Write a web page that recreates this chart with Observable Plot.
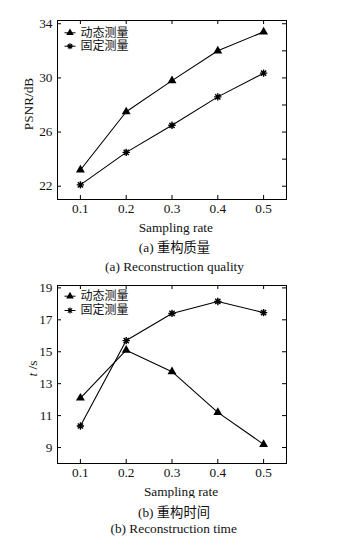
<!DOCTYPE html>
<html><head><meta charset="utf-8">
<script src="https://cdn.jsdelivr.net/npm/d3@7"></script>
<script src="https://cdn.jsdelivr.net/npm/@observablehq/plot@0.6"></script>
<style>
body{margin:0;background:#fff;}
#wrap{position:relative;width:337px;height:550px;overflow:hidden;font-family:"Liberation Serif","Noto Sans CJK SC",serif;color:#111;}
.cap{position:absolute;transform:translateX(-50%);white-space:nowrap;font-size:13.3px;line-height:13.3px;}
.slot{position:absolute;left:0;}
</style></head><body><div id="wrap">
<div class="slot" id="c1" style="top:0px"></div>
<div class="cap" style="top:241.3px;left:174.5px">(a) 重构质量</div>
<div class="cap" style="top:260.4px;left:174.5px">(a) Reconstruction quality</div>
<div class="slot" id="c2" style="top:276px"></div>
<div class="cap" style="top:506px;left:174px">(b) 重构时间</div>
<div class="cap" style="top:522.4px;left:173.7px">(b) Reconstruction time</div>
</div>
<script>
const rates = [0.1, 0.2, 0.3, 0.4, 0.5];
const seriesNames = ["动态测量", "固定测量"];
const psnrDynamic = [23.2, 27.5, 29.8, 32.0, 33.4];
const psnrFixed = [22.1, 24.5, 26.5, 28.6, 30.35];
const timeDynamic = [12.1, 15.1, 13.75, 11.2, 9.2];
const timeFixed = [10.35, 15.7, 17.4, 18.15, 17.45];
const psnrTicks = [22, 26, 30, 34];
const psnrMinorTicks = [22, 24, 26, 28, 30, 32, 34];
const timeTicks = [9, 11, 13, 15, 17, 19];
const xLabel = "Sampling rate";

const FONT = "Liberation Serif, Noto Sans CJK SC, serif";
const hline = {draw(ctx){ctx.moveTo(-5.5,0);ctx.lineTo(5.5,0);}};
const star8 = {draw(ctx, size){
  const r = Math.sqrt(size/Math.PI)*1.15;
  for (let i=0;i<4;i++){const a=i*Math.PI/4;const c=Math.cos(a)*r,s=Math.sin(a)*r;ctx.moveTo(-c,-s);ctx.lineTo(c,s);}
}};

function chart({dyn, fix, yDomain, yTicks, yRightTicks, yLabel, height, marginTop, marginBottom, xLabelDy, xLabelDx, yLabelDx, yLabelDy, leg1, leg2}) {
  const W = 337, ML = 57, MR = 51;
  const innerW = W - ML - MR, innerH = height - marginTop - marginBottom;
  const dynData = rates.map((x,i)=>({x, y: dyn[i]}));
  const fixData = rates.map((x,i)=>({x, y: fix[i]}));
  return Plot.plot({
    width: W, height, marginLeft: ML, marginRight: MR, marginTop, marginBottom,
    style: {fontFamily: FONT, fontSize: "13.3px", color: "#111", background: "#fff"},
    x: {domain: [0.05, 0.55]},
    y: {domain: yDomain},
    marks: [
      Plot.frame({stroke: "#000", strokeWidth: 1}),
      Plot.axisX(rates, {anchor: "bottom", tickSize: 0, tickPadding: 4, tickFormat: d => d.toFixed(1), label: null, fontSize: 13.3}),
      Plot.text([xLabel], {frameAnchor: "bottom", text: d => d, dx: xLabelDx, dy: xLabelDy, textAnchor: "middle", lineAnchor: "bottom", fontSize: 13.3, fill: "#111"}),
      Plot.tickX(rates, {x: d => d, insetTop: innerH - 4, stroke: "#000"}),
      Plot.tickX(rates, {x: d => d, insetBottom: innerH - 4, stroke: "#000"}),
      Plot.axisY(yTicks, {anchor: "left", tickSize: 0, tickPadding: 5, label: null, fontSize: 13.3}),
      Plot.text([yLabel], {frameAnchor: "left", text: d => d, rotate: -90, dx: yLabelDx, dy: yLabelDy, textAnchor: "middle", lineAnchor: "middle", fontSize: 13.3, fill: "#111"}),
      Plot.tickY(yTicks, {y: d => d, insetRight: innerW - 4, stroke: "#000"}),
      Plot.tickY(yRightTicks, {y: d => d, insetLeft: innerW - 4, stroke: "#000"}),
      Plot.line(dynData, {x: "x", y: "y", stroke: "#000", strokeWidth: 1.1}),
      Plot.line(fixData, {x: "x", y: "y", stroke: "#000", strokeWidth: 1.1}),
      Plot.dot(dynData, {x: "x", y: "y", symbol: "triangle", fill: "#000", r: 3.3}),
      Plot.dot(fixData, {x: "x", y: "y", symbol: star8, stroke: "#000", strokeWidth: 1.4, r: 3.2}),
      // legend
      Plot.dot([seriesNames[0]], {frameAnchor: "top-left", dx: 12.5, dy: leg1, symbol: hline, stroke: "#000", strokeWidth: 1}),
      Plot.dot([seriesNames[0]], {frameAnchor: "top-left", dx: 12.5, dy: leg1, symbol: "triangle", fill: "#000", r: 2.8}),
      Plot.text([seriesNames[0]], {frameAnchor: "top-left", dx: 23, dy: leg1, text: d => d, textAnchor: "start", lineAnchor: "middle", fontSize: 12, fill: "#111"}),
      Plot.dot([seriesNames[1]], {frameAnchor: "top-left", dx: 12.5, dy: leg2, symbol: hline, stroke: "#000", strokeWidth: 1}),
      Plot.dot([seriesNames[1]], {frameAnchor: "top-left", dx: 12.5, dy: leg2, symbol: star8, stroke: "#000", strokeWidth: 1.2, r: 2.6}),
      Plot.text([seriesNames[1]], {frameAnchor: "top-left", dx: 23, dy: leg2, text: d => d, textAnchor: "start", lineAnchor: "middle", fontSize: 12, fill: "#111"})
    ]
  });
}

const svg1 = chart({dyn: psnrDynamic, fix: psnrFixed, yDomain: [21.02, 34.24], yTicks: psnrTicks, yRightTicks: psnrMinorTicks,
  yLabel: "PSNR/dB", height: 237, marginTop: 20, marginBottom: 38, xLabelDy: 32.5, xLabelDx: 3.8, yLabelDx: -29, yLabelDy: -6, leg1: 12.3, leg2: 25.7});
const svg2 = chart({dyn: timeDynamic, fix: timeFixed, yDomain: [8.0, 19.15], yTicks: timeTicks, yRightTicks: timeTicks,
  yLabel: "t /s", height: 222, marginTop: 9, marginBottom: 35, xLabelDy: 32, xLabelDx: 9, yLabelDx: -25, yLabelDy: -6, leg1: 10.7, leg2: 25});
svg1.style.display = "block"; svg2.style.display = "block";
document.getElementById("c1").appendChild(svg1);
document.getElementById("c2").appendChild(svg2);
// italic t in the time label
svg2.querySelectorAll("text").forEach(t => {
  if (t.textContent === "t /s") {
    t.textContent = "";
    const ns = "http://www.w3.org/2000/svg";
    const a = document.createElementNS(ns, "tspan"); a.setAttribute("font-style", "italic"); a.textContent = "t";
    const b = document.createElementNS(ns, "tspan"); b.textContent = " /s";
    t.appendChild(a); t.appendChild(b);
  }
});
</script></body></html>
